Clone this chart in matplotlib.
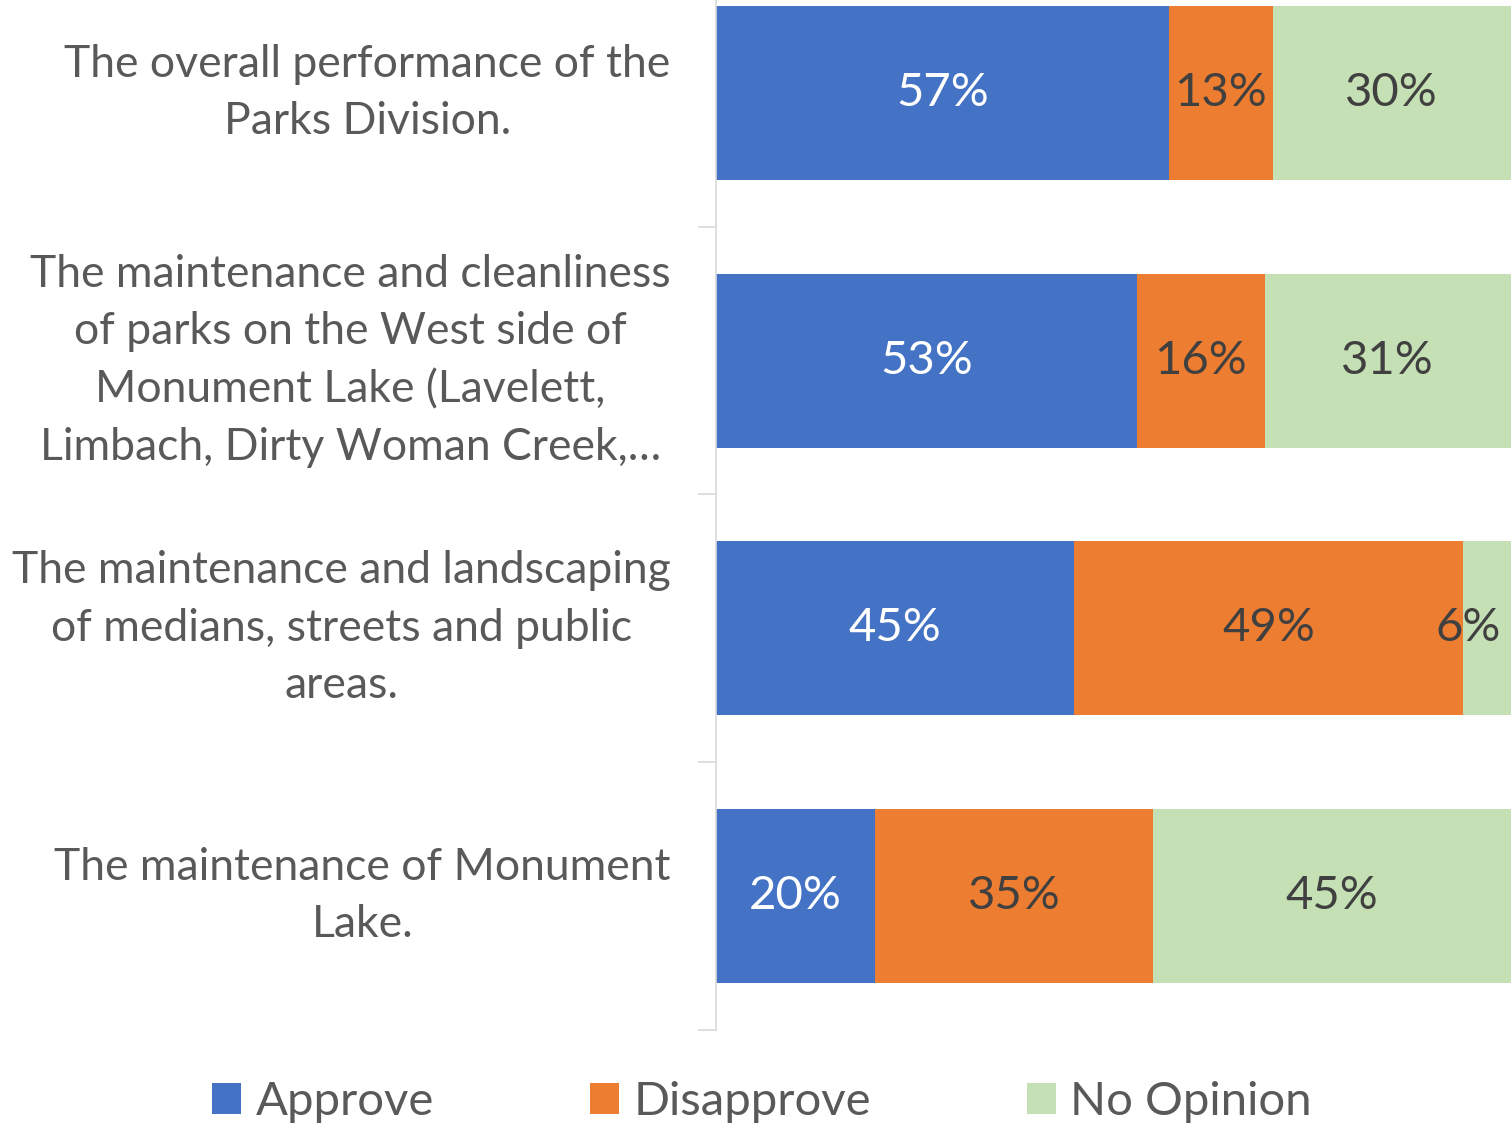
import matplotlib.pyplot as plt

plt.rcParams['font.family'] = ['Lato', 'DejaVu Sans']

# --- data -------------------------------------------------------------
questions = [
    "The overall performance of the\nParks Division.",
    "The maintenance and cleanliness\nof parks on the West side of\nMonument Lake (Lavelett,\nLimbach, Dirty Woman Creek,\u2026",
    "The maintenance and landscaping\nof medians, streets and public\nareas.",
    "The maintenance of Monument\nLake.",
]
approve = [57, 53, 45, 20]
disapprove = [13, 16, 49, 35]
no_opinion = [30, 31, 6, 45]
series_names = ["Approve", "Disapprove", "No Opinion"]

colors = ["#4472C4", "#ED7D31", "#C5E0B4"]
label_colors = ["white", "#404040", "#404040"]
grey = "#595959"

# --- figure -----------------------------------------------------------
fig = plt.figure(figsize=(15.11, 11.31), dpi=100)
ax = fig.add_axes([716 / 1511, 101 / 1131, 1 - 716 / 1511, 1071 / 1131])

ypos = list(range(len(questions)))
left = [0] * len(questions)
for vals, col, lc, name in zip([approve, disapprove, no_opinion], colors, label_colors, series_names):
    ax.barh(ypos, vals, left=left, height=0.65, color=col, label=name)
    for y, v, l in zip(ypos, vals, left):
        # keep labels of thin end segments inside the figure
        x = min(l + v / 2, 94.6)
        ax.text(x, y, f"{v}%", ha="center", va="center",
                fontsize=34, color=lc, clip_on=False)
    left = [a + b for a, b in zip(left, vals)]

ax.set_xlim(0, 100)
ax.set_ylim(len(questions) - 0.5, -0.5)
ax.set_xticks([])
ax.set_yticks([i + 0.5 for i in range(len(questions))])
ax.set_yticklabels([])
ax.tick_params(axis="y", length=13, color="#D9D9D9", width=1.2)
for s in ["top", "right", "bottom"]:
    ax.spines[s].set_visible(False)
ax.spines["left"].set_color("#D9D9D9")
ax.spines["left"].set_linewidth(1.2)

# category labels, centred lines, block right-aligned
for y, q in zip(ypos, questions):
    ax.text(-5.7, y, q, ha="right", va="center",
            multialignment="center", fontsize=32, color=grey,
            linespacing=1.5, clip_on=False)

fig.legend(loc="center", bbox_to_anchor=(762 / 1511, 1 - 1102 / 1131), ncol=3,
           frameon=False, fontsize=34, handlelength=0.62, handleheight=0.62,
           columnspacing=3.3, handletextpad=0.3, labelcolor=grey)

fig.savefig("out.png", dpi=100)
